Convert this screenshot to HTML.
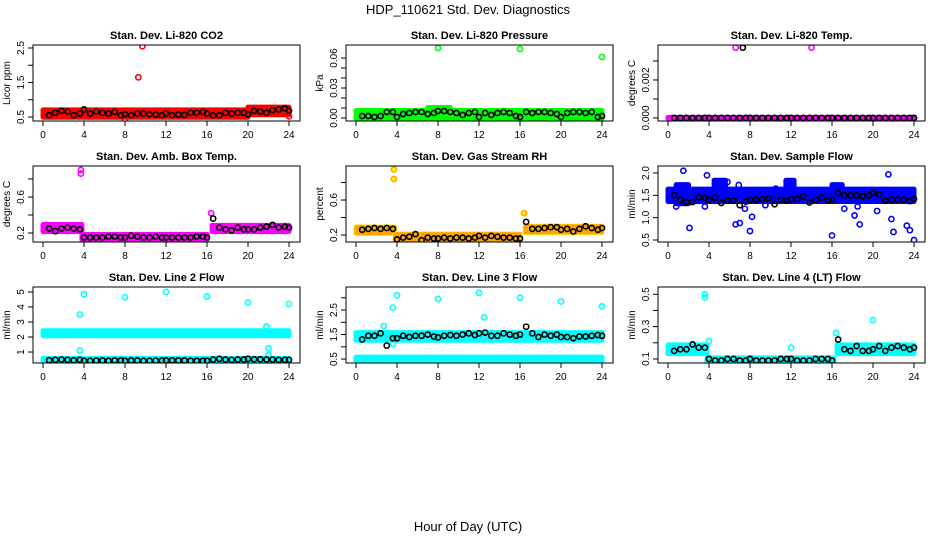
<!DOCTYPE html>
<html><head><meta charset="utf-8">
<style>
html,body{margin:0;padding:0;background:#fff;}
svg{display:block;font-family:"Liberation Sans",sans-serif;}
</style></head>
<body>
<svg id="chart" width="936" height="540" viewBox="0 0 936 540">
<text x="468" y="14" text-anchor="middle" font-size="13">HDP_110621  Std. Dev. Diagnostics</text>
<text x="468" y="531" text-anchor="middle" font-size="13">Hour of Day (UTC)</text>
</svg>
<script>
const hours=[0.6,1.2,1.8,2.4,3.0,3.6,4.0,4.6,5.2,5.8,6.4,7.0,7.6,8.0,8.6,9.2,9.8,10.4,11.0,11.6,12.0,12.6,13.2,13.8,14.4,15.0,15.6,16.0,16.6,17.2,17.8,18.4,19.0,19.6,20.0,20.6,21.2,21.8,22.4,23.0,23.6,24.0];
const xTicks=[0,4,8,12,16,20,24];
const titles=["Stan. Dev. Li-820 CO2","Stan. Dev. Li-820 Pressure","Stan. Dev. Li-820 Temp.","Stan. Dev. Amb. Box Temp.","Stan. Dev. Gas Stream RH","Stan. Dev. Sample Flow","Stan. Dev. Line 2 Flow","Stan. Dev. Line 3 Flow","Stan. Dev. Line 4 (LT) Flow"];
const yTitles=["Licor ppm","kPa","degrees C","degrees C","percent","ml/min","ml/min","ml/min","ml/min"];
const colors=["#ff0000","#00ff00","#ff00ff","#ff00ff","#ffa500","#0000ff","#00ffff","#00ffff","#00ffff"];
const yMins=[0.384,-0.003,-0.00016,0.1,0.12,0.455,0.27,0.34,0.075];
const yMaxs=[2.587,0.073,0.00384,0.944,0.989,2.157,5.33,3.44,0.545];
const yTickVals=[[0.5,1,1.5,2,2.5],[0,0.01,0.02,0.03,0.04,0.05,0.06],[0,0.001,0.002,0.003],[0.2,0.4,0.6,0.8],[0.2,0.4,0.6,0.8],[0.5,1,1.5,2],[1,2,3,4,5],[0.5,1,1.5,2,2.5,3],[0.1,0.2,0.3,0.4,0.5]];
const yTickLabels=[["0.5","","1.5","","2.5"],["0.00","","","0.03","","","0.06"],["0.000","","0.002",""],["0.2","","0.6",""],["0.2","","0.6",""],["0.5","1.0","1.5","2.0"],["1","2","3","4","5"],["0.5","","1.5","","2.5",""],["0.1","","0.3","","0.5"]];
// bands: [startHour, endHour, low, high]
const bands=[
 [[0,20,0.48,0.72],[20,24,0.55,0.8]],
 [[0,24,-0.001,0.008],[7,9.2,-0.001,0.011]],
 [[0,24,-0.00006,0.00006]],
 [[0,3.8,0.21,0.3],[3.8,16,0.12,0.19],[16.5,24,0.21,0.29]],
 [[0,3.8,0.21,0.3],[3.8,16,0.13,0.22],[16.5,24,0.22,0.31]],
 [[0,24,1.35,1.65],[0.8,2,1.3,1.75],[4.5,5.6,1.6,1.85],[11.5,12.3,1.65,1.85],[16,17,1.4,1.75]],
 [[0,24,2.05,2.45],[0,24,0.35,0.6]],
 [[0,24,1.25,1.6],[0,24,0.38,0.6]],
 [[0,3.8,0.13,0.19],[3.8,16.2,0.08,0.11],[16.5,24,0.13,0.19]]
];
const outX=[[9.3,9.7,8,24],[8,16,24],[6.6,14],[3.7,3.7,16.4],[3.7,3.7,16.4],[1.5,2.1,3.8,5.8,6.6,7,6.9,7.5,8,8.2,9.5,10.5,16,17.2,18.2,18.7,18.5,20.4,21.5,21.8,22,23.3,23.6,24,0.8,3.6,13.5],[3.6,4,8,12,16,20,24,3.6,22,22,8,21.8],[2.7,3.6,4,8,12,12.5,16,20,24,3.6],[3.6,3.6,4,12,16.4,20]];
const outY=[[1.65,2.55,0.42,0.52],[0.07,0.069,0.061],[0.0037,0.0037],[0.9,0.86,0.42],[0.95,0.84,0.45],[2.05,0.77,1.95,1.8,0.85,0.88,1.73,1.2,0.7,1.02,1.28,1.65,0.6,1.2,1.05,0.85,1.25,1.15,1.97,0.97,0.68,0.82,0.72,0.5,1.25,1.25,1.5],[3.5,4.85,4.65,5,4.7,4.3,4.2,1.1,1.25,0.8,0.25,2.7],[1.85,2.6,3.1,2.95,3.2,2.2,3.0,2.85,2.65,1.12],[0.5,0.48,0.21,0.17,0.26,0.34]];
const blackY=[
 [0.55,0.62,0.68,0.66,0.55,0.6,0.72,0.6,0.66,0.62,0.6,0.65,0.55,0.58,0.55,0.6,0.6,0.58,0.57,0.55,0.6,0.55,0.57,0.56,0.62,0.62,0.65,0.6,0.55,0.55,0.62,0.6,0.62,0.62,0.58,0.68,0.66,0.62,0.7,0.72,0.75,0.68],
 [0.002,0.002,0.001,0.002,0.006,0.006,0.001,0.004,0.005,0.006,0.006,0.004,0.005,0.007,0.007,0.006,0.005,0.003,0.005,0.006,0.001,0.005,0.003,0.005,0.006,0.005,0.002,0.001,0.006,0.005,0.006,0.006,0.005,0.004,0.001,0.005,0.006,0.006,0.005,0.006,0.001,0.002],
 [0,0,0,0,0,0,0,0,0,0,0,0,0,0,0,0,0,0,0,0,0,0,0,0,0,0,0,0,0,0,0,0,0,0,0,0,0,0,0,0,0,0],
 [0.25,0.22,0.25,0.26,0.25,0.24,0.15,0.15,0.15,0.15,0.16,0.16,0.15,0.15,0.17,0.16,0.15,0.15,0.16,0.15,0.15,0.15,0.15,0.15,0.15,0.16,0.16,0.15,0.36,0.26,0.24,0.23,0.26,0.24,0.24,0.24,0.26,0.27,0.29,0.26,0.27,0.26],
 [0.26,0.27,0.28,0.27,0.28,0.27,0.15,0.17,0.18,0.21,0.14,0.17,0.16,0.16,0.17,0.16,0.17,0.17,0.16,0.17,0.19,0.17,0.19,0.18,0.17,0.17,0.16,0.16,0.35,0.27,0.27,0.28,0.29,0.29,0.26,0.27,0.24,0.27,0.3,0.28,0.26,0.28],
 [1.5,1.4,1.35,1.35,1.46,1.44,1.4,1.45,1.33,1.38,1.38,1.28,1.36,1.4,1.4,1.41,1.43,1.3,1.4,1.38,1.41,1.42,1.48,1.34,1.4,1.45,1.39,1.4,1.55,1.5,1.5,1.5,1.48,1.5,1.55,1.52,1.38,1.4,1.4,1.4,1.37,1.42],
 [0.45,0.48,0.5,0.48,0.45,0.48,0.42,0.42,0.43,0.44,0.42,0.44,0.44,0.42,0.44,0.44,0.42,0.42,0.43,0.43,0.44,0.45,0.44,0.44,0.42,0.42,0.42,0.42,0.5,0.55,0.5,0.48,0.5,0.5,0.55,0.52,0.52,0.5,0.5,0.48,0.48,0.48],
 [1.3,1.45,1.45,1.55,1.05,1.35,1.35,1.45,1.4,1.45,1.45,1.5,1.42,1.38,1.45,1.48,1.45,1.5,1.55,1.48,1.55,1.58,1.45,1.45,1.55,1.5,1.45,1.5,1.82,1.55,1.4,1.5,1.45,1.5,1.4,1.4,1.35,1.42,1.42,1.45,1.48,1.45],
 [0.15,0.16,0.16,0.19,0.17,0.17,0.1,0.09,0.09,0.1,0.1,0.09,0.09,0.1,0.09,0.09,0.09,0.09,0.1,0.1,0.1,0.09,0.09,0.09,0.1,0.1,0.1,0.09,0.22,0.16,0.15,0.18,0.15,0.15,0.16,0.18,0.15,0.17,0.18,0.17,0.16,0.17]
];

const NS="http://www.w3.org/2000/svg";
const svg=document.getElementById('chart');
const colX0=[43,356,668], rowTop=[45,166,287], H=76;
function mk(tag,attrs,parent){const e=document.createElementNS(NS,tag);for(const k in attrs)e.setAttribute(k,attrs[k]);parent.appendChild(e);return e;}
function slug(s){return s.toLowerCase().replace(/[^a-z0-9]+/g,'-').replace(/^-|-$/g,'');}

for(let p=0;p<9;p++){
  const c=p%3,r=Math.floor(p/3);
  const x0=colX0[c],top=rowTop[r],bot=top+H;
  const bl=x0-10,br=x0+257;
  const xs=h=>x0+h/24*246;
  const ys=v=>bot-(v-yMins[p])/(yMaxs[p]-yMins[p])*H;
  const g=mk('g',{},svg);
  
  
  const clip=mk('clipPath',{id:'clip'+p},g);
  mk('rect',{x:bl,y:top,width:br-bl,height:H},clip);
  const t=mk('text',{x:(bl+br)/2,y:top-6,'text-anchor':'middle','font-size':11,'font-weight':'bold'},g);
  t.textContent=titles[p];
  
  
  const yt=mk('text',{transform:`translate(${bl-23},${(top+bot)/2}) rotate(-90)`,'text-anchor':'middle','font-size':10},g);
  yt.textContent=yTitles[p];
  
  
  const marks=mk('g',{'clip-path':`url(#clip${p})`},g);
  bands[p].forEach(b=>{
    const rr=mk('rect',{x:xs(b[0])-2,y:ys(b[3])-1.5,width:xs(b[1])-xs(b[0])+4,height:Math.max(3,ys(b[2])-ys(b[3])+3),fill:colors[p],stroke:p===4?'#ffff00':colors[p],'stroke-width':1,'stroke-dasharray':p===4?'2 2':'none',rx:2}, marks);
    
    
  });
  outX[p].forEach((h,i)=>{
    const o=mk('circle',{cx:xs(h),cy:ys(outY[p][i]),r:2.6,fill:p===4?'#ffff00':'none',stroke:colors[p],'stroke-width':1.6},marks);
    
    
  });
  hours.forEach((h,i)=>{
    const b=mk('circle',{cx:xs(h),cy:ys(blackY[p][i]),r:2.6,fill:'none',stroke:'#000','stroke-width':1.6},marks);
    
    
  });
  if(p===2){
    const o=mk('circle',{cx:xs(7.3),cy:ys(0.0037),r:2.6,fill:'none',stroke:'#000','stroke-width':1.6},marks);
    
    
  }
  const box=mk('rect',{x:bl,y:top,width:br-bl,height:H,fill:'none',stroke:'#000','stroke-width':1},g);
  
  
  mk('line',{x1:xs(0),x2:xs(24),y1:bot,y2:bot,stroke:'#000'},g);
  xTicks.forEach(h=>{
    mk('line',{x1:xs(h),x2:xs(h),y1:bot,y2:bot+5,stroke:'#000'},g);
    const l=mk('text',{x:xs(h),y:bot+17,'text-anchor':'middle','font-size':10},g);
    l.textContent=h;
    
    
  });
  yTickVals[p].forEach((v,i)=>{
    const y=ys(v);
    mk('line',{x1:bl-5,x2:bl,y1:y,y2:y,stroke:'#000'},g);
    if(yTickLabels[p][i]){
      const l=mk('text',{transform:`translate(${bl-9},${y}) rotate(-90)`,'text-anchor':'middle','font-size':10},g);
      l.textContent=yTickLabels[p][i];
      
      
    }
  });
}
</script>
</body></html>
